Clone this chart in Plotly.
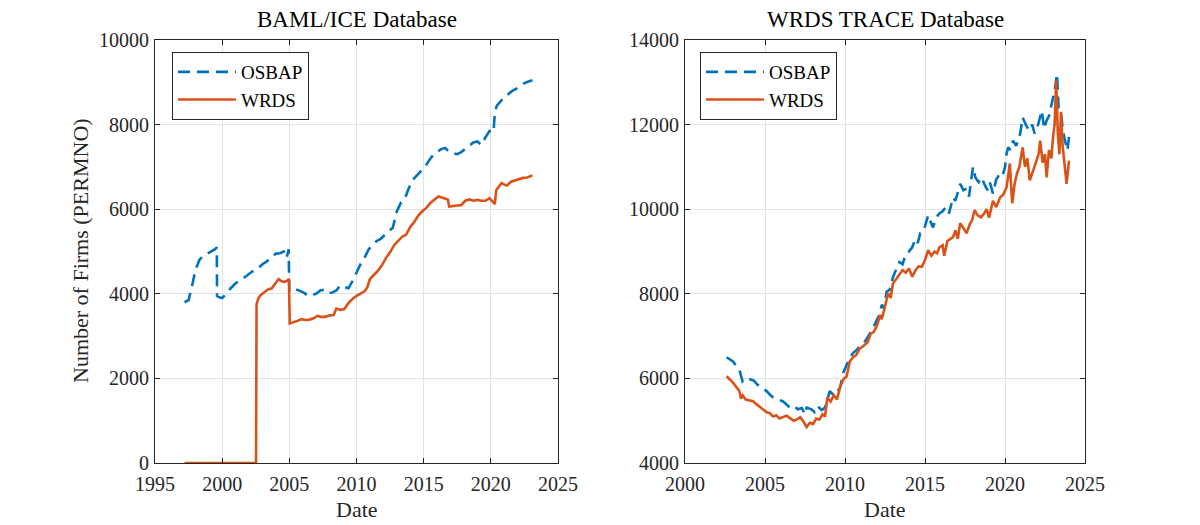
import plotly.graph_objects as go

# ---------------- Data ----------------
# Left panel: BAML/ICE Database
baml_osbap_t = [1997.2, 1997.5, 1997.8, 1998.0, 1998.3, 1998.6, 1998.9, 1999.2, 1999.45, 1999.6, 1999.62,
                1999.8, 2000.0, 2000.3, 2000.6, 2001.0, 2001.4, 2001.8, 2002.2, 2002.6, 2003.0, 2003.3,
                2003.6, 2004.0, 2004.3, 2004.6, 2004.8, 2004.95, 2005.0, 2005.2, 2005.5, 2005.8, 2006.1,
                2006.4, 2006.7, 2007.0, 2007.3, 2007.6, 2007.9, 2008.2, 2008.5, 2008.8, 2009.1, 2009.4,
                2009.7, 2010.0, 2010.3, 2010.6, 2010.9, 2011.2, 2011.5, 2011.8, 2012.1, 2012.4, 2012.7,
                2013.0, 2013.3, 2013.6, 2013.9, 2014.2, 2014.5, 2014.8, 2015.1, 2015.4, 2015.7, 2016.0,
                2016.3, 2016.6, 2016.9, 2017.2, 2017.5, 2017.8, 2018.1, 2018.4, 2018.7, 2019.0, 2019.3,
                2019.6, 2019.9, 2020.2, 2020.3, 2020.45, 2020.7, 2021.0, 2021.3, 2021.6, 2021.9, 2022.2,
                2022.5, 2022.8, 2023.1]
baml_osbap_v = [3800, 3850, 4250, 4550, 4800, 4900, 4950, 5000, 5050, 5100, 3950,
                3920, 3900, 4000, 4120, 4250, 4330, 4420, 4520, 4580, 4700, 4760,
                4850, 4950, 4960, 5000, 4850, 5050, 4050, 4080, 4100, 4070, 4020,
                3950, 3980, 4000, 4080, 4100, 4020, 4030, 4080, 4200, 4160, 4130,
                4300, 4500, 4700, 4850, 5050, 5150, 5250, 5300, 5400, 5480, 5560,
                5950, 6150, 6250, 6500, 6700, 6800, 6900, 7000, 7150, 7280, 7350,
                7420, 7450, 7350, 7320, 7300, 7350, 7420, 7500, 7580, 7600, 7520,
                7700, 7850, 7820, 8300, 8450, 8550, 8650, 8720, 8800, 8850, 8920,
                8980, 9020, 9050]

baml_wrds_t = [1997.2, 1998.0, 1999.0, 2000.0, 2001.0, 2002.0, 2002.52, 2002.56, 2002.7, 2002.9, 2003.1,
               2003.4, 2003.7, 2004.0, 2004.2, 2004.4, 2004.6, 2004.8, 2004.97, 2005.03, 2005.3,
               2005.6, 2005.9, 2006.2, 2006.5, 2006.8, 2007.1, 2007.4, 2007.7, 2008.0, 2008.3, 2008.5,
               2008.8, 2009.1, 2009.4, 2009.7, 2010.0, 2010.3, 2010.6, 2010.8, 2011.0, 2011.3, 2011.6,
               2011.9, 2012.2, 2012.5, 2012.8, 2013.1, 2013.4, 2013.7, 2014.0, 2014.3, 2014.6, 2014.9,
               2015.2, 2015.5, 2015.8, 2016.1, 2016.4, 2016.6, 2016.8, 2016.9, 2017.2, 2017.5, 2017.8,
               2018.1, 2018.4, 2018.7, 2019.0, 2019.3, 2019.6, 2019.9, 2020.1, 2020.3, 2020.4, 2020.6,
               2020.8, 2021.0, 2021.2, 2021.5, 2021.8, 2022.1, 2022.4, 2022.7, 2023.0, 2023.1]
baml_wrds_v = [0, 0, 0, 0, 0, 0, 0, 3750, 3900, 3980, 4030,
               4100, 4130, 4250, 4350, 4300, 4280, 4300, 4350, 3300, 3320,
               3360, 3400, 3380, 3390, 3420, 3480, 3450, 3460, 3490, 3500, 3650,
               3620, 3640, 3780, 3880, 3950, 4000, 4060, 4150, 4350, 4450, 4550,
               4680, 4850, 4980, 5150, 5250, 5350, 5400, 5580, 5700, 5850, 5950,
               6030, 6150, 6220, 6300, 6270, 6250, 6230, 6060, 6070, 6080, 6100,
               6200, 6230, 6200, 6220, 6200, 6200, 6260, 6200, 6120, 6450, 6550,
               6620, 6580, 6560, 6650, 6680, 6720, 6740, 6750, 6780, 6800]

# Right panel: WRDS TRACE Database
trace_osbap_t = [2002.6, 2002.8, 2003.0, 2003.2, 2003.4, 2003.6, 2003.8, 2004.05, 2004.3, 2004.5, 2004.8,
                 2005.1, 2005.3, 2005.5, 2005.8, 2006.1, 2006.3, 2006.55, 2006.8, 2007.05, 2007.3,
                 2007.5, 2007.6, 2007.9, 2008.1, 2008.3, 2008.55, 2008.75, 2009.05, 2009.3, 2009.5,
                 2009.7, 2009.9, 2010.1, 2010.3, 2010.5, 2010.75, 2011.0, 2011.2, 2011.4, 2011.7,
                 2012.0, 2012.15, 2012.3, 2012.45, 2012.6, 2012.8, 2013.0, 2013.2, 2013.4, 2013.6,
                 2013.8, 2014.0, 2014.2, 2014.4, 2014.55, 2014.7, 2014.85, 2015.0, 2015.2, 2015.35,
                 2015.5, 2015.7, 2015.9, 2016.1, 2016.3, 2016.5, 2016.75, 2016.9, 2017.05, 2017.2,
                 2017.4, 2017.6, 2017.75, 2017.9, 2018.0, 2018.15, 2018.35, 2018.55, 2018.7, 2018.9,
                 2019.05, 2019.25, 2019.45, 2019.7, 2019.85, 2020.0, 2020.1, 2020.2, 2020.35, 2020.5,
                 2020.7, 2020.95, 2021.1, 2021.3, 2021.5, 2021.7, 2021.85, 2022.0, 2022.15, 2022.3,
                 2022.45, 2022.6, 2022.75, 2022.9, 2023.05, 2023.1, 2023.25, 2023.35, 2023.5, 2023.6,
                 2023.75, 2023.9, 2024.05]
trace_osbap_v = [6500, 6450, 6400, 6300, 6200, 5930, 6000, 5980, 5950, 5860, 5780,
                 5700, 5620, 5550, 5500, 5460, 5400, 5310, 5350, 5270, 5300,
                 5150, 5310, 5270, 5200, 5340, 5250, 5310, 5700, 5600, 5660,
                 5800, 6140, 6300, 6490, 6600, 6680, 6800, 6850, 6960, 7150,
                 7390, 7500, 7740, 7650, 8050, 8100, 8400, 8600, 8750, 8700,
                 8950, 9000, 9100, 9300, 9200, 9430, 9450, 9600, 9860, 9700,
                 9570, 9800, 9900, 9950, 10050, 9900, 10280, 10200, 10400, 10600,
                 10450, 10490, 10300, 10700, 11000, 10750, 10640, 10750, 10600, 10450,
                 10640, 10370, 10700, 10850, 10800, 10990, 11310, 11460, 11400, 11620,
                 11500, 11790, 12170, 12000, 11860, 12000, 11790, 11900, 12100, 12330,
                 11900, 12100, 12200, 12490, 12700, 12800, 13200, 12400, 12330, 11900,
                 11620, 11390, 11860]

trace_wrds_t = [2002.6, 2002.8, 2003.0, 2003.2, 2003.4, 2003.5, 2003.6, 2003.8, 2004.0, 2004.25, 2004.5,
                2004.7, 2004.9, 2005.1, 2005.3, 2005.5, 2005.7, 2005.9, 2006.1, 2006.35, 2006.6,
                2006.8, 2007.0, 2007.2, 2007.4, 2007.6, 2007.8, 2008.0, 2008.2, 2008.4, 2008.6,
                2008.75, 2008.9, 2009.1, 2009.3, 2009.5, 2009.7, 2009.9, 2010.1, 2010.3, 2010.5,
                2010.7, 2010.9, 2011.1, 2011.4, 2011.6, 2011.8, 2012.0, 2012.2, 2012.3, 2012.5,
                2012.7, 2012.85, 2013.0, 2013.2, 2013.4, 2013.6, 2013.8, 2014.0, 2014.2, 2014.4,
                2014.6, 2014.8, 2015.0, 2015.2, 2015.4, 2015.6, 2015.75, 2015.9, 2016.1, 2016.2,
                2016.4, 2016.6, 2016.75, 2016.9, 2017.05, 2017.2, 2017.4, 2017.6, 2017.8, 2017.95,
                2018.1, 2018.3, 2018.5, 2018.7, 2018.85, 2019.0, 2019.25, 2019.45, 2019.7, 2019.9,
                2020.1, 2020.3, 2020.45, 2020.6, 2020.75, 2020.9, 2021.1, 2021.25, 2021.4, 2021.55,
                2021.75, 2021.95, 2022.1, 2022.2, 2022.35, 2022.5, 2022.6, 2022.75, 2022.9, 2023.0,
                2023.1, 2023.2, 2023.3, 2023.4, 2023.5, 2023.6, 2023.75, 2023.85, 2024.0]
trace_wrds_v = [6050, 5980, 5900, 5800, 5700, 5520, 5600, 5500, 5480, 5460, 5380,
                5320, 5250, 5200, 5180, 5100, 5130, 5050, 5080, 5120, 5050,
                5000, 5030, 5080, 4980, 4850, 4950, 4920, 5050, 5030, 5150,
                5100, 5550, 5450, 5600, 5500, 5800, 5980, 6050, 6400, 6500,
                6550, 6700, 6750, 6850, 7050, 7100, 7250, 7500, 7400, 7700,
                8020, 7900, 8250, 8350, 8450, 8560, 8500, 8600, 8400, 8550,
                8650, 8640, 8800, 9030, 8900, 9000, 8960, 9100, 9150, 8900,
                9250, 9300, 9340, 9500, 9300, 9670, 9550, 9430, 9650, 9750,
                9980, 9850, 9810, 9900, 10000, 9800, 10200, 10050, 10280, 10350,
                10520, 11080, 10140, 10600, 10850, 11000, 11460, 11000, 11200, 10680,
                10900, 11150, 11300, 11620, 11100, 11300, 10750, 11400, 11200, 11700,
                12000, 13040, 11800, 11300, 12300, 11500, 10900, 10600, 11150]

left_xticks = [1995, 2000, 2005, 2010, 2015, 2020, 2025]
left_yticks = [0, 2000, 4000, 6000, 8000, 10000]
right_xticks = [2000, 2005, 2010, 2015, 2020, 2025]
right_yticks = [4000, 6000, 8000, 10000, 12000, 14000]

# ---------------- Styling ----------------
# Page body margin is removed (post_script), so the figure fills the 1200x525 window.
W, H = 1200, 525
BLUE = "#0072BD"
ORANGE = "#D95319"
FONT = "Liberation Serif"
AXC = "#262626"
GRID = "#e3e3e3"

def px_x(p):
    return p / W

def px_y(p):
    return 1 - p / H

fig = go.Figure()

dash = "12px,7px"
lw = 2.6

fig.add_trace(go.Scatter(x=baml_osbap_t, y=baml_osbap_v, mode="lines", name="OSBAP",
                         line=dict(color=BLUE, width=lw, dash=dash), xaxis="x", yaxis="y", legend="legend"))
fig.add_trace(go.Scatter(x=baml_wrds_t, y=baml_wrds_v, mode="lines", name="WRDS",
                         line=dict(color=ORANGE, width=lw), xaxis="x", yaxis="y", legend="legend"))
fig.add_trace(go.Scatter(x=trace_osbap_t, y=trace_osbap_v, mode="lines", name="OSBAP",
                         line=dict(color=BLUE, width=lw, dash=dash), xaxis="x2", yaxis="y2", legend="legend2"))
fig.add_trace(go.Scatter(x=trace_wrds_t, y=trace_wrds_v, mode="lines", name="WRDS",
                         line=dict(color=ORANGE, width=lw), xaxis="x2", yaxis="y2", legend="legend2"))

ax_common = dict(showline=True, linecolor=AXC, linewidth=1, mirror="ticks", ticks="inside",
                 ticklen=5, tickcolor=AXC, showgrid=True, gridcolor=GRID, gridwidth=1,
                 zeroline=False, tickfont=dict(family=FONT, size=20, color=AXC), automargin=False)

ydom = [px_y(463), px_y(40)]

legend_common = dict(xanchor="left", yanchor="top", bgcolor="white", bordercolor=AXC,
                     borderwidth=1, font=dict(family=FONT, size=19, color="black"),
                     itemwidth=58, tracegroupgap=0)

fig.update_layout(
    width=W, height=H,
    paper_bgcolor="white", plot_bgcolor="white",
    margin=dict(l=0, r=0, t=0, b=0),
    font=dict(family=FONT, size=20, color=AXC),
    xaxis=dict(domain=[px_x(155), px_x(558)], range=[1995, 2025], tickvals=left_xticks,
               ticktext=[str(v) for v in left_xticks], anchor="y", ticklabelstandoff=3, **ax_common),
    yaxis=dict(domain=ydom, range=[0, 10000], tickvals=left_yticks,
               ticktext=[str(v) for v in left_yticks], anchor="x", ticklabelstandoff=1, **ax_common),
    xaxis2=dict(domain=[px_x(685), px_x(1085)], range=[2000, 2025], tickvals=right_xticks,
                ticktext=[str(v) for v in right_xticks], anchor="y2", ticklabelstandoff=3, **ax_common),
    yaxis2=dict(domain=ydom, range=[4000, 14000], tickvals=right_yticks,
                ticktext=[str(v) for v in right_yticks], anchor="x2", ticklabelstandoff=1, **ax_common),
    legend=dict(x=px_x(172), y=px_y(52), **legend_common),
    legend2=dict(x=px_x(700), y=px_y(52), **legend_common),
    showlegend=True,
)

annots = [
    dict(text="BAML/ICE Database", x=px_x(357), y=px_y(19), font=dict(size=23, family=FONT, color="black")),
    dict(text="WRDS TRACE Database", x=px_x(885), y=px_y(19), font=dict(size=23, family=FONT, color="black")),
    dict(text="Date", x=px_x(357), y=px_y(509), font=dict(size=22, family=FONT, color=AXC)),
    dict(text="Date", x=px_x(885), y=px_y(509), font=dict(size=22, family=FONT, color=AXC)),
    dict(text="Number of Firms (PERMNO)", x=px_x(80), y=px_y(251), textangle=-90,
         font=dict(size=22, family=FONT, color=AXC)),
]
for a in annots:
    fig.add_annotation(xref="paper", yref="paper", showarrow=False, xanchor="center", yanchor="middle", **a)

fig.write_html("out.html", config={"displayModeBar": False},
               post_script="document.body.style.margin='0';document.body.style.overflow='hidden';")
